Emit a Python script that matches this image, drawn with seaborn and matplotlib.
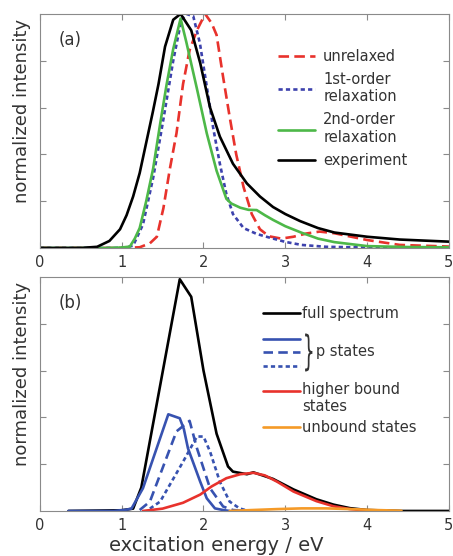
import numpy as np
import pandas as pd
import matplotlib
matplotlib.use("Agg")
import matplotlib.pyplot as plt
import seaborn as sns
import matplotlib.transforms as mtransforms
from matplotlib.lines import Line2D
from matplotlib.legend_handler import HandlerLine2D, HandlerBase
from matplotlib.textpath import TextPath
from matplotlib.patches import PathPatch
from matplotlib.font_manager import FontProperties

# ---- panel (a): spectra ----
exp_x = [0.0, 0.5, 0.7, 0.85, 0.98, 1.06, 1.14, 1.22, 1.30, 1.38, 1.45, 1.53, 1.63, 1.72,
         1.85, 1.96, 2.08, 2.20, 2.36, 2.53, 2.69, 2.85, 3.00, 3.18, 3.40, 3.60, 4.00, 4.40, 5.00]
exp_y = [0.0, 0.0, 0.005, 0.03, 0.08, 0.14, 0.22, 0.32, 0.45, 0.58, 0.70, 0.86, 0.975, 1.0,
         0.93, 0.79, 0.60, 0.476, 0.36, 0.276, 0.22, 0.175, 0.145, 0.115, 0.085, 0.066, 0.048, 0.036, 0.027]

rel2_x = [0.0, 0.8, 1.0, 1.10, 1.16, 1.22, 1.30, 1.385, 1.47, 1.55, 1.63, 1.72, 1.79, 1.92, 2.04,
          2.16, 2.28, 2.34, 2.45, 2.55, 2.65, 2.75, 2.85, 3.00, 3.20, 3.40, 3.60, 4.00, 4.50, 5.00]
rel2_y = [0.0, 0.0, 0.002, 0.006, 0.04, 0.085, 0.2, 0.34, 0.53, 0.70, 0.85, 0.98, 0.88, 0.68, 0.49,
          0.33, 0.21, 0.19, 0.172, 0.163, 0.162, 0.14, 0.12, 0.093, 0.065, 0.04, 0.025, 0.008, 0.004, 0.003]

rel1_x = [0.0, 0.9, 1.05, 1.14, 1.26, 1.385, 1.51, 1.63, 1.73, 1.79, 1.875, 1.956, 2.04, 2.12,
          2.20, 2.28, 2.36, 2.49, 2.65, 2.80, 3.00, 3.20, 3.50, 4.00, 5.00]
rel1_y = [0.0, 0.0, 0.002, 0.01, 0.1, 0.3, 0.55, 0.80, 0.975, 1.0, 0.99, 0.875, 0.69, 0.51,
          0.36, 0.23, 0.145, 0.085, 0.06, 0.045, 0.026, 0.013, 0.005, 0.002, 0.0]

unrel_x = [0.0, 1.0, 1.22, 1.345, 1.43, 1.51, 1.59, 1.67, 1.75, 1.83, 1.92, 2.02, 2.10, 2.16,
           2.24, 2.32, 2.40, 2.49, 2.59, 2.69, 2.80, 2.95, 3.10, 3.26, 3.42, 3.60, 4.00, 4.40, 5.00]
unrel_y = [0.0, 0.0, 0.003, 0.02, 0.048, 0.17, 0.34, 0.49, 0.70, 0.845, 0.93, 1.0, 0.96, 0.91,
           0.73, 0.56, 0.40, 0.26, 0.145, 0.08, 0.05, 0.04, 0.048, 0.062, 0.07, 0.063, 0.034, 0.013, 0.006]

# ---- panel (b): decomposition ----
full_x = [0.35, 1.00, 1.14, 1.24, 1.71, 1.85, 2.00, 2.16, 2.30, 2.36, 2.53, 2.61, 2.85, 3.10,
          3.38, 3.59, 3.79, 4.00, 4.42, 5.00]
full_y = [0.0, 0.003, 0.01, 0.10, 0.99, 0.915, 0.60, 0.33, 0.19, 0.168, 0.157, 0.165, 0.137, 0.092,
          0.05, 0.027, 0.012, 0.004, 0.0, 0.0]

p1_x = [0.35, 0.90, 1.05, 1.12, 1.26, 1.57, 1.71, 1.76, 1.81, 1.96, 2.04, 2.14, 2.24, 2.32]
p1_y = [0.0, 0.0, 0.005, 0.01, 0.097, 0.413, 0.396, 0.35, 0.268, 0.125, 0.054, 0.011, 0.004, 0.0]
p2_x = [1.22, 1.345, 1.67, 1.83, 1.92, 2.08, 2.24, 2.36, 2.50]
p2_y = [0.004, 0.04, 0.34, 0.385, 0.268, 0.097, 0.019, 0.004, 0.0]
p3_x = [1.345, 1.47, 1.75, 1.92, 2.00, 2.08, 2.20, 2.32, 2.44, 2.55]
p3_y = [0.01, 0.04, 0.21, 0.318, 0.318, 0.254, 0.125, 0.04, 0.011, 0.0]

hb_x = [1.26, 1.50, 1.75, 1.96, 2.10, 2.28, 2.45, 2.61, 2.75, 2.90, 3.10, 3.38, 3.59, 3.79, 4.00]
hb_y = [0.0, 0.01, 0.035, 0.07, 0.105, 0.14, 0.157, 0.163, 0.152, 0.125, 0.083, 0.042, 0.02, 0.008, 0.002]
ub_x = [2.32, 2.60, 2.90, 3.20, 3.50, 3.80, 4.10, 4.42]
ub_y = [0.0, 0.004, 0.008, 0.011, 0.011, 0.008, 0.004, 0.001]

labels_a = ["unrelaxed", "1st-order\nrelaxation", "2nd-order\nrelaxation", "experiment"]
labels_b = ["full spectrum", "\n   p states\n", "higher bound\nstates", "unbound states"]

GRAY = "#8a8a8a"
TXT = "#333333"
RED = "#e8322c"
BLUE_A = "#3d42ad"
BLUE_B = "#3752b0"
GREEN = "#4db848"
ORANGE = "#f59a27"
LW = 1.9


class RaisedLine(HandlerLine2D):
    # legend line sitting on the first line of a two-line label
    def __init__(self, lift, **kw):
        super().__init__(**kw)
        self.lift = lift

    def create_artists(self, legend, orig_handle, xdescent, ydescent, width, height, fontsize, trans):
        return super().create_artists(legend, orig_handle, xdescent, ydescent - 2 * self.lift * fontsize,
                                      width, height, fontsize, trans)


class StackedLines(HandlerBase):
    # three stacked lines plus a brace
    def create_artists(self, legend, orig_handle, xdescent, ydescent, width, height, fontsize, trans):
        yc = (height - ydescent) / 2
        step = 0.92 * fontsize
        arts = []
        for k, h in enumerate(orig_handle):
            ln = Line2D([-xdescent, width - xdescent], [yc + (1 - k) * step] * 2)
            ln.update_from(h)
            ln.set_transform(trans)
            ln.set_clip_box(None)
            ln.set_clip_path(None)
            arts.append(ln)
        glyph = TextPath((0, 0), "}", size=10, prop=FontProperties(family="DejaVu Sans"))
        ext = glyph.get_extents()
        bh, bw = 2.6 * fontsize, 0.5 * fontsize
        tf = (mtransforms.Affine2D().translate(-ext.x0, -ext.y0)
              .scale(bw / ext.width, bh / ext.height)
              .translate(width - xdescent + 0.35 * fontsize, yc - bh / 2))
        arts.append(PathPatch(glyph, transform=tf + trans, fc=TXT, ec="none"))
        return arts


def style_axes(ax, tag):
    ax.set_xlim(0, 5)
    ax.set_ylim(0, 1)
    ax.set_xticks(range(6))
    ax.set_yticks([0.2, 0.4, 0.6, 0.8])
    ax.set_yticklabels([])
    ax.tick_params(direction="in", length=4, width=0.8, color=GRAY, top=True, right=True,
                   labelsize=10.5, labelcolor=TXT, pad=5)
    for s in ax.spines.values():
        s.set_color(GRAY)
        s.set_linewidth(0.8)
    ax.set_ylabel("normalized intensity", fontsize=13, color=TXT)
    ax.yaxis.set_label_coords(-0.022, 0.585)
    ax.set_xlabel("")
    ax.text(0.045, 0.89, tag, transform=ax.transAxes, fontsize=12, color=TXT,
            ha="left", va="center")


sns.set_style("ticks")
plt.rcParams["font.family"] = ["DejaVu Sans"]

fig = plt.figure(figsize=(4.53, 5.56), dpi=100)
ax_a = fig.add_axes([0.088, 0.554, 0.903, 0.421])
ax_b = fig.add_axes([0.088, 0.081, 0.903, 0.421])

# (a)
sns.lineplot(x=unrel_x, y=unrel_y, ax=ax_a, color=RED, lw=LW, linestyle=(0, (4, 2)), estimator=None)
sns.lineplot(x=rel1_x, y=rel1_y, ax=ax_a, color=BLUE_A, lw=LW, linestyle=(0, (1.6, 1.2)), estimator=None)
sns.lineplot(x=rel2_x, y=rel2_y, ax=ax_a, color=GREEN, lw=LW, estimator=None)
sns.lineplot(x=exp_x, y=exp_y, ax=ax_a, color="black", lw=LW, estimator=None)
style_axes(ax_a, "(a)")
la = ax_a.get_lines()
ax_a.legend(handles=la[:4], labels=labels_a, loc="upper left", bbox_to_anchor=(0.582, 0.85),
            frameon=False, fontsize=10.5, handlelength=2.55, handletextpad=0.55,
            labelspacing=0.55, borderpad=0, borderaxespad=0, labelcolor=TXT)

# (b)
sns.lineplot(x=full_x, y=full_y, ax=ax_b, color="black", lw=LW, estimator=None)
sns.lineplot(x=p1_x, y=p1_y, ax=ax_b, color=BLUE_B, lw=LW, estimator=None)
sns.lineplot(x=p2_x, y=p2_y, ax=ax_b, color=BLUE_B, lw=LW, linestyle=(0, (3.6, 2)), estimator=None)
sns.lineplot(x=p3_x, y=p3_y, ax=ax_b, color=BLUE_B, lw=LW, linestyle=(0, (1.6, 1.2)), estimator=None)
sns.lineplot(x=hb_x, y=hb_y, ax=ax_b, color=RED, lw=LW, estimator=None)
sns.lineplot(x=ub_x, y=ub_y, ax=ax_b, color=ORANGE, lw=LW, estimator=None)
style_axes(ax_b, "(b)")
ax_b.set_xlabel("excitation energy / eV", fontsize=14, color=TXT)
ax_b.xaxis.set_label_coords(0.43, -0.105)
lb = ax_b.get_lines()
ax_b.legend(handles=[lb[0], (lb[1], lb[2], lb[3]), lb[4], lb[5]], labels=labels_b,
            handler_map={tuple: StackedLines(), lb[4]: RaisedLine(0.58)},
            loc="upper left", bbox_to_anchor=(0.545, 0.875), frameon=False, fontsize=10.5,
            handlelength=2.55, handletextpad=0.15, labelspacing=0.38, borderpad=0,
            borderaxespad=0, labelcolor=TXT)

fig.savefig("out.png", dpi=100)
plt.close(fig)
